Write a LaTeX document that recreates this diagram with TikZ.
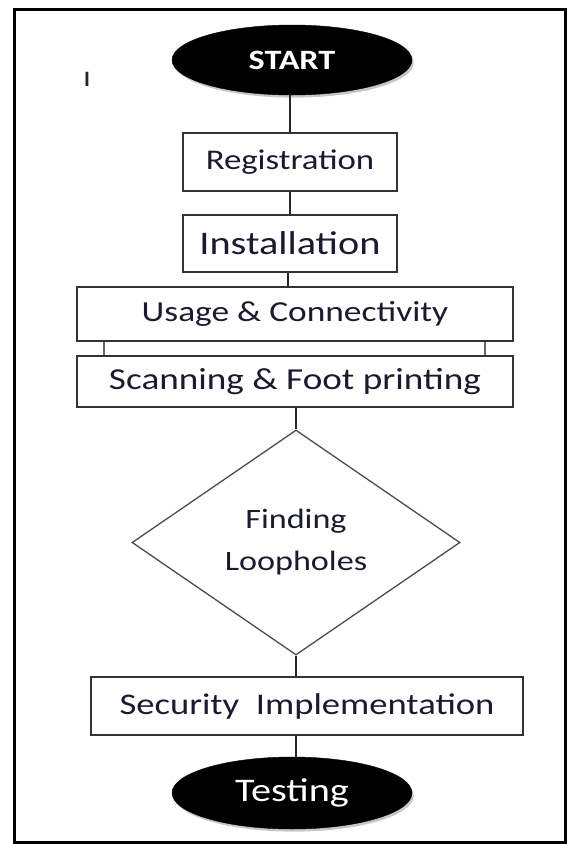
\documentclass[tikz,border=0pt]{standalone}
\usepackage{fontspec}
\setmainfont{Carlito}
\newfontfamily\wide[FakeStretch=1.22]{Carlito}
\usetikzlibrary{shapes.geometric}
\definecolor{txt}{HTML}{1A1A30}
\definecolor{edge}{HTML}{333333}
\tikzset{
  box/.style={draw=edge, line width=1.5pt, rectangle, inner sep=0pt, text=txt, font=\wide},
  term/.style={ellipse, fill=black, draw=black, inner sep=0pt, text=white,
     preaction={fill=black!22, transform canvas={shift={(1.8pt,-2.6pt)}}}},
  link/.style={draw=black!85, line width=1.3pt},
  sidelink/.style={draw=black!60, line width=1.8pt},
}
\begin{document}
\begin{tikzpicture}[x=1pt,y=-1pt]
\useasboundingbox (0,0) rectangle (568,844);
\fill[white] (0,0) rectangle (568,844);
\draw[line width=3pt, black] (14,9) rectangle (565,842);

\node[font=\bfseries\fontsize{22}{22}\selectfont, text=black!85] (mark) at (87,79) {I};

\node[term, minimum width=240pt, minimum height=70pt,
      font={\wide\bfseries\fontsize{28}{28}\selectfont}] (start) at (292,60) {START};
\node[box, minimum width=214pt, minimum height=58pt,
      font={\wide\fontsize{28.5}{28.5}\selectfont}] (reg) at (290,162) {Registration};
\node[box, minimum width=214pt, minimum height=57pt,
      font={\wide\fontsize{33}{33}\selectfont}] (inst) at (290,243.5) {Installation};
\node[box, minimum width=436pt, minimum height=54pt,
      font={\wide\fontsize{29}{29}\selectfont}] (use) at (295,314) {Usage \& Connectivity};
\node[box, minimum width=436pt, minimum height=51pt,
      font={\wide\fontsize{30.5}{30.5}\selectfont}] (scan) at (295,381.5) {Scanning \& Foot printing};
\node[diamond, draw=black!70, line width=1.3pt, inner sep=0pt, aspect=1.46,
      minimum width=328pt, minimum height=225pt, text=txt, align=center,
      font={\wide\fontsize{28}{42}\selectfont}] (dia) at (296,542.5) {Finding\\Loopholes};
\node[box, minimum width=432pt, minimum height=58pt,
      font={\wide\fontsize{30}{30}\selectfont}] (sec) at (307,706) {Security\ \ Implementation};
\node[term, minimum width=240pt, minimum height=72pt,
      font={\wide\fontsize{33}{33}\selectfont}] (test) at (292,793) {Testing};

\draw[link] (reg.north) -- (reg.north |- start.south);
\draw[link] (reg.south) -- (inst.north);
\draw[link] (inst.south -| 288,0) -- (use.north -| 288,0);
\draw[sidelink] ([xshift=28pt]use.south west) -- ([xshift=28pt]scan.north west);
\draw[sidelink] ([xshift=-29pt]use.south east) -- ([xshift=-29pt]scan.north east);
\draw[link] (scan.south -| dia.north) -- (dia.north);
\draw[link] (dia.south) -- (dia.south |- sec.north);
\draw[link] (sec.south -| dia.south) -- (test.north -| dia.south);
\end{tikzpicture}
\end{document}
